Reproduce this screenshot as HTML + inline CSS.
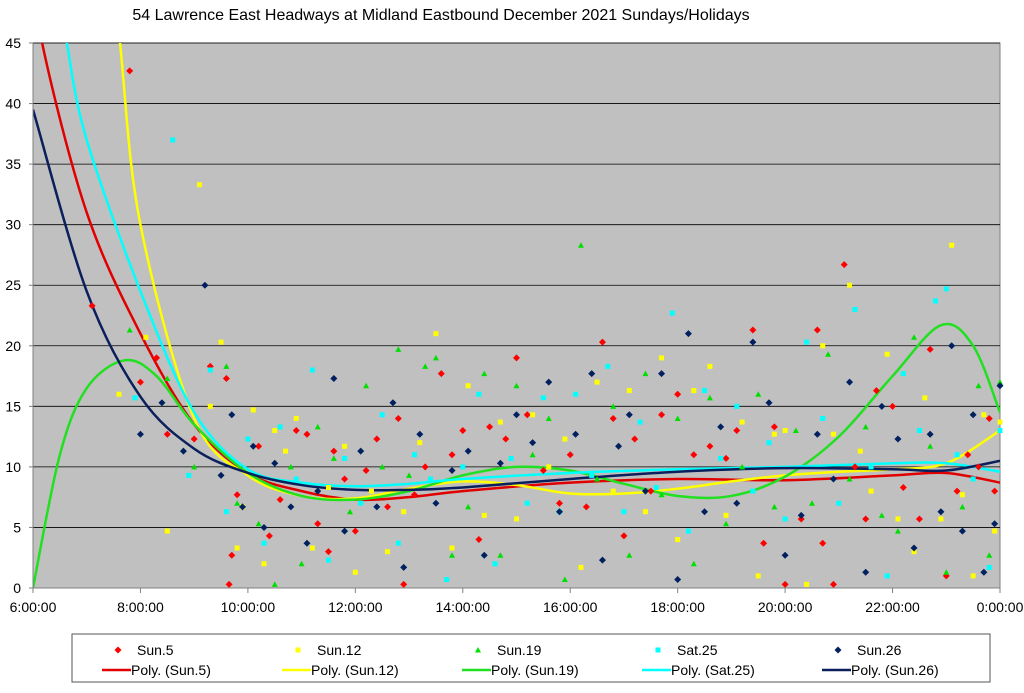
<!DOCTYPE html>
<html><head><meta charset="utf-8"><style>
body{margin:0;background:#fff;width:1024px;height:688px;overflow:hidden;font-family:"Liberation Sans",sans-serif}
svg text{font-family:"Liberation Sans",sans-serif}
</style></head><body>
<svg id="chart" width="1024" height="688" xmlns="http://www.w3.org/2000/svg">
<text x="441" y="20" font-size="16" text-anchor="middle">54 Lawrence East Headways at Midland Eastbound December 2021  Sundays/Holidays</text>
<rect x="33" y="43" width="967" height="545" fill="#c0c0c0" stroke="#808080"/>
<g id="grid"></g><g id="trends"></g><g id="points"></g><g id="axes"></g><g id="legend"></g>
</svg>
<script>
const xTicks=[6,8,10,12,14,16,18,20,22,24];
const xTickLabels=["6:00:00","8:00:00","10:00:00","12:00:00","14:00:00","16:00:00","18:00:00","20:00:00","22:00:00","0:00:00"];
const yTicks=[0,5,10,15,20,25,30,35,40,45];
const seriesNames=["Sun.5","Sun.12","Sun.19","Sat.25","Sun.26"];
const seriesColors=["#ff0000","#ffff00","#00e000","#00ffff","#002060"];
const trendColors=["#e00000","#ffff00","#20e020","#00ffff","#0a1f5c"];
const sun5=[[7.1,23.3],[7.8,42.7],[8.0,17],[8.3,19],[8.5,12.7],[9.0,12.3],[9.3,18.3],[9.6,17.3],[9.65,0.3],[9.7,2.7],[9.8,7.7],[10.2,11.7],[10.4,4.3],[10.6,7.3],[10.9,13],[11.1,12.7],[11.3,5.3],[11.5,3],[11.6,11.3],[11.8,9],[12.0,4.7],[12.2,9.7],[12.4,12.3],[12.6,6.7],[12.8,14],[12.9,0.3],[13.1,7.7],[13.3,10],[13.6,17.7],[13.8,11],[14.0,13],[14.3,4],[14.5,13.3],[14.8,12.3],[15.0,19],[15.2,14.3],[15.5,9.7],[15.8,7],[16.0,11],[16.3,6.7],[16.6,20.3],[16.8,14],[17.0,4.3],[17.2,12.3],[17.5,8],[17.7,14.3],[18.0,16],[18.3,11],[18.6,11.7],[18.9,10.7],[19.1,13],[19.4,21.3],[19.6,3.7],[19.8,13.3],[20.0,0.3],[20.3,5.7],[20.6,21.3],[20.7,3.7],[20.9,0.3],[21.1,26.7],[21.3,10],[21.5,5.7],[21.7,16.3],[22.0,15],[22.2,8.3],[22.5,5.7],[22.7,19.7],[23.0,1],[23.2,8],[23.4,11],[23.6,10],[23.8,14],[23.9,8]];
const sun12=[[7.6,16],[8.1,20.7],[8.5,4.7],[9.1,33.3],[9.3,15],[9.5,20.3],[9.8,3.3],[9.9,6.7],[10.1,14.7],[10.3,2],[10.5,13],[10.7,11.3],[10.9,14],[11.2,3.3],[11.5,8.3],[11.8,11.7],[12.0,1.3],[12.3,8],[12.6,3],[12.9,6.3],[13.2,12],[13.5,21],[13.8,3.3],[14.1,16.7],[14.4,6],[14.7,13.7],[15.0,5.7],[15.3,14.3],[15.6,10],[15.9,12.3],[16.2,1.7],[16.5,17],[16.8,8],[17.1,16.3],[17.4,6.3],[17.7,19],[18.0,4],[18.3,16.3],[18.6,18.3],[18.9,6],[19.2,13.7],[19.5,1],[19.8,12.7],[20.0,13],[20.4,0.3],[20.7,20],[20.9,12.7],[21.2,25],[21.4,11.3],[21.6,8],[21.9,19.3],[22.1,5.7],[22.4,3],[22.6,15.7],[22.9,5.7],[23.1,28.3],[23.3,7.7],[23.5,1],[23.7,14.3],[23.9,4.7],[24,13.7]];
const sun19=[[7.8,21.3],[8.5,17.3],[9.0,10],[9.6,18.3],[9.8,7],[10.2,5.3],[10.5,0.3],[10.8,10],[11.0,2],[11.3,13.3],[11.6,10.7],[11.9,6.3],[12.2,16.7],[12.5,10],[12.8,19.7],[13.0,9.3],[13.3,18.3],[13.5,19],[13.8,2.7],[14.1,6.7],[14.4,17.7],[14.7,2.7],[15.0,16.7],[15.3,11],[15.6,14],[15.9,0.7],[16.2,28.3],[16.5,9],[16.8,15],[17.1,2.7],[17.4,17.7],[17.7,7.7],[18.0,14],[18.3,2],[18.6,15.7],[18.9,5.3],[19.2,10],[19.5,16],[19.8,6.7],[20.2,13],[20.5,7],[20.8,19.3],[21.2,9],[21.5,13.3],[21.8,6],[22.1,4.7],[22.4,20.7],[22.7,11.7],[23.0,1.3],[23.3,6.7],[23.6,16.7],[23.8,2.7],[24,17]];
const sat25=[[7.9,15.7],[8.6,37],[8.9,9.3],[9.3,18],[9.6,6.3],[10.0,12.3],[10.3,3.7],[10.6,13.3],[10.9,9],[11.2,18],[11.5,2.3],[11.8,10.7],[12.1,7],[12.5,14.3],[12.8,3.7],[13.1,11],[13.4,9],[13.7,0.7],[14.0,10],[14.3,16],[14.6,2],[14.9,10.7],[15.2,7],[15.5,15.7],[15.8,6.3],[16.1,16],[16.4,9.3],[16.7,18.3],[17.0,6.3],[17.3,13.7],[17.6,8.3],[17.9,22.7],[18.2,4.7],[18.5,16.3],[18.8,10.7],[19.1,15],[19.4,8],[19.7,12],[20.0,5.7],[20.4,20.3],[20.7,14],[21.0,7],[21.3,23],[21.6,10],[21.9,1],[22.2,17.7],[22.5,13],[22.8,23.7],[23.0,24.7],[23.2,11],[23.5,9],[23.8,1.7],[24,13]];
const sun26=[[8.0,12.7],[8.4,15.3],[8.8,11.3],[9.2,25],[9.5,9.3],[9.7,14.3],[9.9,6.7],[10.1,11.7],[10.3,5],[10.5,10.3],[10.8,6.7],[11.1,3.7],[11.3,8],[11.6,17.3],[11.8,4.7],[12.1,11.3],[12.4,6.7],[12.7,15.3],[12.9,1.7],[13.2,12.7],[13.5,7],[13.8,9.7],[14.1,11.3],[14.4,2.7],[14.7,10.3],[15.0,14.3],[15.3,12],[15.6,17],[15.8,6.3],[16.1,12.7],[16.4,17.7],[16.6,2.3],[16.9,11.7],[17.1,14.3],[17.4,8],[17.7,17.7],[18.0,0.7],[18.2,21],[18.5,6.3],[18.8,13.3],[19.1,7],[19.4,20.3],[19.7,15.3],[20.0,2.7],[20.3,6],[20.6,12.7],[20.9,9],[21.2,17],[21.5,1.3],[21.8,15],[22.1,12.3],[22.4,3.3],[22.7,12.7],[22.9,6.3],[23.1,20],[23.3,4.7],[23.5,14.3],[23.7,1.3],[23.9,5.3],[24,16.7]];
const trendSun5=[[6.0,52],[6.17,45],[7,31],[8,21],[9,13.5],[10,9.5],[11,8],[12,7.3],[13,7.5],[14,8],[16,8.7],[18,9],[20,8.9],[22,9.3],[23,9.5],[24,8.7]];
const trendSun12=[[7.3,60],[7.62,45],[8,30],[9,14],[10,9.3],[11,7.6],[12,7.4],[13,8.2],[14,8.8],[15,8.5],[16,7.8],[17,7.8],[18,8.2],[19,8.8],[20,9.3],[21,9.6],[22,9.8],[23,10.3],[24,13]];
const trendSun19=[[6,0],[6.5,11],[7,16.5],[7.7,18.8],[8.3,17.5],[9,13.5],[10,9.5],[11,7.6],[12,7.3],[13,8],[14,9.3],[15,10],[16,9.7],[17,8.6],[18,7.6],[19,7.6],[20,9.2],[21,12.5],[22,17.5],[22.9,21.7],[23.5,20],[24,14.5]];
const trendSat25=[[6.4,52],[6.63,45],[7,37],[8,24.5],[9,14.5],[10,9.8],[11,8.7],[12,8.4],[13,8.6],[14,9],[16,9.5],[18,9.8],[20,10],[22,10.3],[23,10.3],[24,9.6]];
const trendSun26=[[6,39.5],[7,24.5],[8,15.8],[9,11.5],[10,9.5],[11,8.5],[12,8.1],[13,8.1],[14,8.3],[16,9],[18,9.6],[20,9.9],[22,9.8],[23,9.7],[24,10.5]];
const allPoints=[sun5,sun12,sun19,sat25,sun26];
const allTrends=[trendSun5,trendSun12,trendSun19,trendSat25,trendSun26];
const NS="http://www.w3.org/2000/svg";
const X0=33,X1=1000,Y0=588,Y1=43;
function xs(h){return X0+(h-6)/18*(X1-X0);}
function ys(v){return Y0-v/45*(Y0-Y1);}
function mk(tag,attrs,parent){const e=document.createElementNS(NS,tag);for(const k in attrs)e.setAttribute(k,attrs[k]);parent.appendChild(e);return e;}
const svg=document.getElementById('chart');
const defs=mk('defs',{},svg);
const cp=mk('clipPath',{id:'clip'},defs);
mk('rect',{x:X0,y:Y1,width:X1-X0,height:Y0-Y1},cp);
const grid=document.getElementById('grid');
yTicks.forEach(v=>{if(v===0)return;
const l=mk('line',{x1:X0,x2:X1,y1:ys(v),y2:ys(v),stroke:'#000','stroke-width':0.8},grid);

});
const axes=document.getElementById('axes');
mk('line',{x1:X0,x2:X1,y1:Y0,y2:Y0,stroke:'#808080'},axes);
mk('line',{x1:X0,x2:X0,y1:Y1,y2:Y0,stroke:'#808080'},axes);
yTicks.forEach(v=>{mk('line',{x1:X0-4,x2:X0,y1:ys(v),y2:ys(v),stroke:'#808080'},axes);
const t=mk('text',{x:X0-12,y:ys(v)+5,'font-size':14,'text-anchor':'end'},axes);t.textContent=v;

});
xTicks.forEach((h,i)=>{mk('line',{x1:xs(h),x2:xs(h),y1:Y0,y2:Y0+5,stroke:'#808080'},axes);
const t=mk('text',{x:xs(h),y:612,'font-size':14,'text-anchor':'middle'},axes);t.textContent=xTickLabels[i];

});
function smooth(pts){const p=pts.map(a=>[xs(a[0]),ys(a[1])]);let d='M'+p[0][0]+','+p[0][1];
for(let i=0;i<p.length-1;i++){const a=p[i-1]||p[i],b=p[i],c=p[i+1],e=p[i+2]||c;
d+=' C'+(b[0]+(c[0]-a[0])/6)+','+(b[1]+(c[1]-a[1])/6)+' '+(c[0]-(e[0]-b[0])/6)+','+(c[1]-(e[1]-b[1])/6)+' '+c[0]+','+c[1];}return d;}
const tg=document.getElementById('trends');tg.setAttribute('clip-path','url(#clip)');
allTrends.forEach((tr,i)=>{const p=mk('path',{d:smooth(tr),fill:'none',stroke:trendColors[i],'stroke-width':2.5},tg);

});
function marker(i,x,y,parent){let e;
if(i===0||i===4)e=mk('polygon',{points:`${x},${y-3.5} ${x+3.5},${y} ${x},${y+3.5} ${x-3.5},${y}`,fill:seriesColors[i]},parent);
else if(i===2)e=mk('polygon',{points:`${x},${y-3} ${x+3},${y+2.5} ${x-3},${y+2.5}`,fill:seriesColors[i]},parent);
else e=mk('rect',{x:x-2.5,y:y-2.5,width:5,height:5,fill:seriesColors[i]},parent);return e;}
const pg=document.getElementById('points');
allPoints.forEach((arr,i)=>arr.forEach(pt=>{const m=marker(i,xs(pt[0]),ys(pt[1]),pg);

}));
const lg=document.getElementById('legend');
const lb=mk('rect',{x:72,y:634,width:918,height:48,fill:'#fff',stroke:'#555'},lg);


seriesNames.forEach((n,i)=>{const cx=118+i*180;
const m=marker(i,cx,650,lg);


const t=mk('text',{x:cx+19,y:655,'font-size':14},lg);t.textContent=n;


mk('line',{x1:cx-16,x2:cx+13,y1:670,y2:670,stroke:trendColors[i],'stroke-width':2.5},lg);
const t2=mk('text',{x:cx+13,y:675,'font-size':14},lg);t2.textContent='Poly. ('+n+')';

});
</script>
</body></html>
